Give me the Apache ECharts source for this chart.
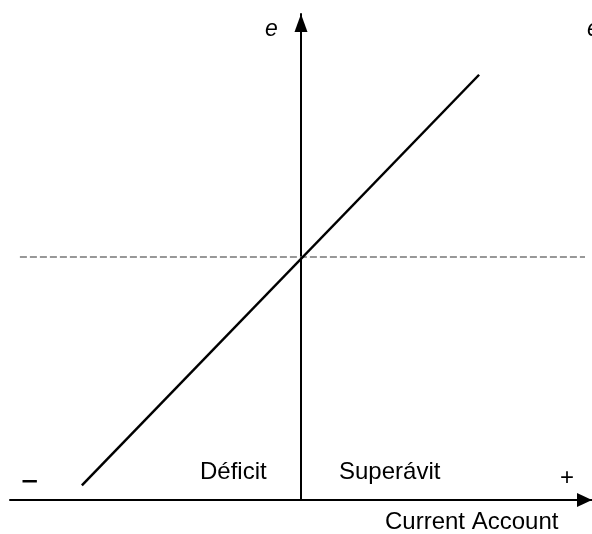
<!DOCTYPE html>
<html>
<head>
<meta charset="utf-8">
<script src="https://cdn.jsdelivr.net/npm/echarts@6/dist/echarts.min.js"></script>
<style>html,body{margin:0;padding:0;background:#fff}#c{width:592px;height:534px}</style>
</head>
<body>
<div id="c"></div>
<script>
// Data (chart units: x in [-100,100], y in [-100,100])
var xRange = [-100, 100];
var yRange = [-100, 100];
var curveX = [-75.3, 61.2];
var curveY = [-94, 75];
var refLineX = [-96.6, 97.6];
var refLineY = [0, 0];
var labels = {yName: 'e', refName: 'e', xName: 'Current Account', left: 'Déficit', right: 'Superávit', minus: '–', plus: '+'};

var chart = echarts.init(document.getElementById('c'), null, {renderer: 'canvas'});
var font = '24px "Liberation Sans", Arial, sans-serif';
var italic = 'italic 23px "Liberation Sans", Arial, sans-serif';
function txt(t, x, y, f, thick) {
  var st = {text: t, font: f || font, fill: '#000', verticalAlign: 'middle', align: 'left'};
  if (thick) { st.stroke = '#000'; st.lineWidth = thick; }
  return {type: 'text', x: x, y: y, style: st};
}
chart.setOption({
  animation: false,
  grid: {left: 10, right: 0, top: 14, bottom: 34},
  xAxis: {
    type: 'value', min: xRange[0], max: xRange[1],
    axisLine: {onZero: false, symbol: ['none', 'triangle'], symbolSize: [14, 15], symbolOffset: [0, -7.5], lineStyle: {color: '#000', width: 2}},
    axisTick: {show: false}, axisLabel: {show: false}, splitLine: {show: false}
  },
  yAxis: {
    type: 'value', min: yRange[0], max: yRange[1],
    axisLine: {onZero: true, symbol: ['none', 'triangle'], symbolSize: [13, 18], symbolOffset: [0, -9], lineStyle: {color: '#000', width: 2}},
    axisTick: {show: false}, axisLabel: {show: false}, splitLine: {show: false}
  },
  series: [
    {type: 'line', symbol: 'none', silent: true,
     data: refLineX.map(function (x, i) { return [x, refLineY[i]]; }),
     lineStyle: {color: '#777', width: 1.5, type: [7, 3]}},
    {type: 'line', symbol: 'none', silent: true,
     data: curveX.map(function (x, i) { return [x, curveY[i]]; }),
     lineStyle: {color: '#000', width: 2.5}}
  ],
  graphic: [
    txt(labels.yName, 265, 30, italic),
    txt(labels.refName, 587, 30, italic),
    txt(labels.left, 200, 472),
    txt(labels.right, 339, 472),
    txt(labels.minus, 23, 480, font, 1),
    txt(labels.plus, 560, 478),
    txt(labels.xName, 385, 522)
  ]
});
</script>
</body>
</html>
